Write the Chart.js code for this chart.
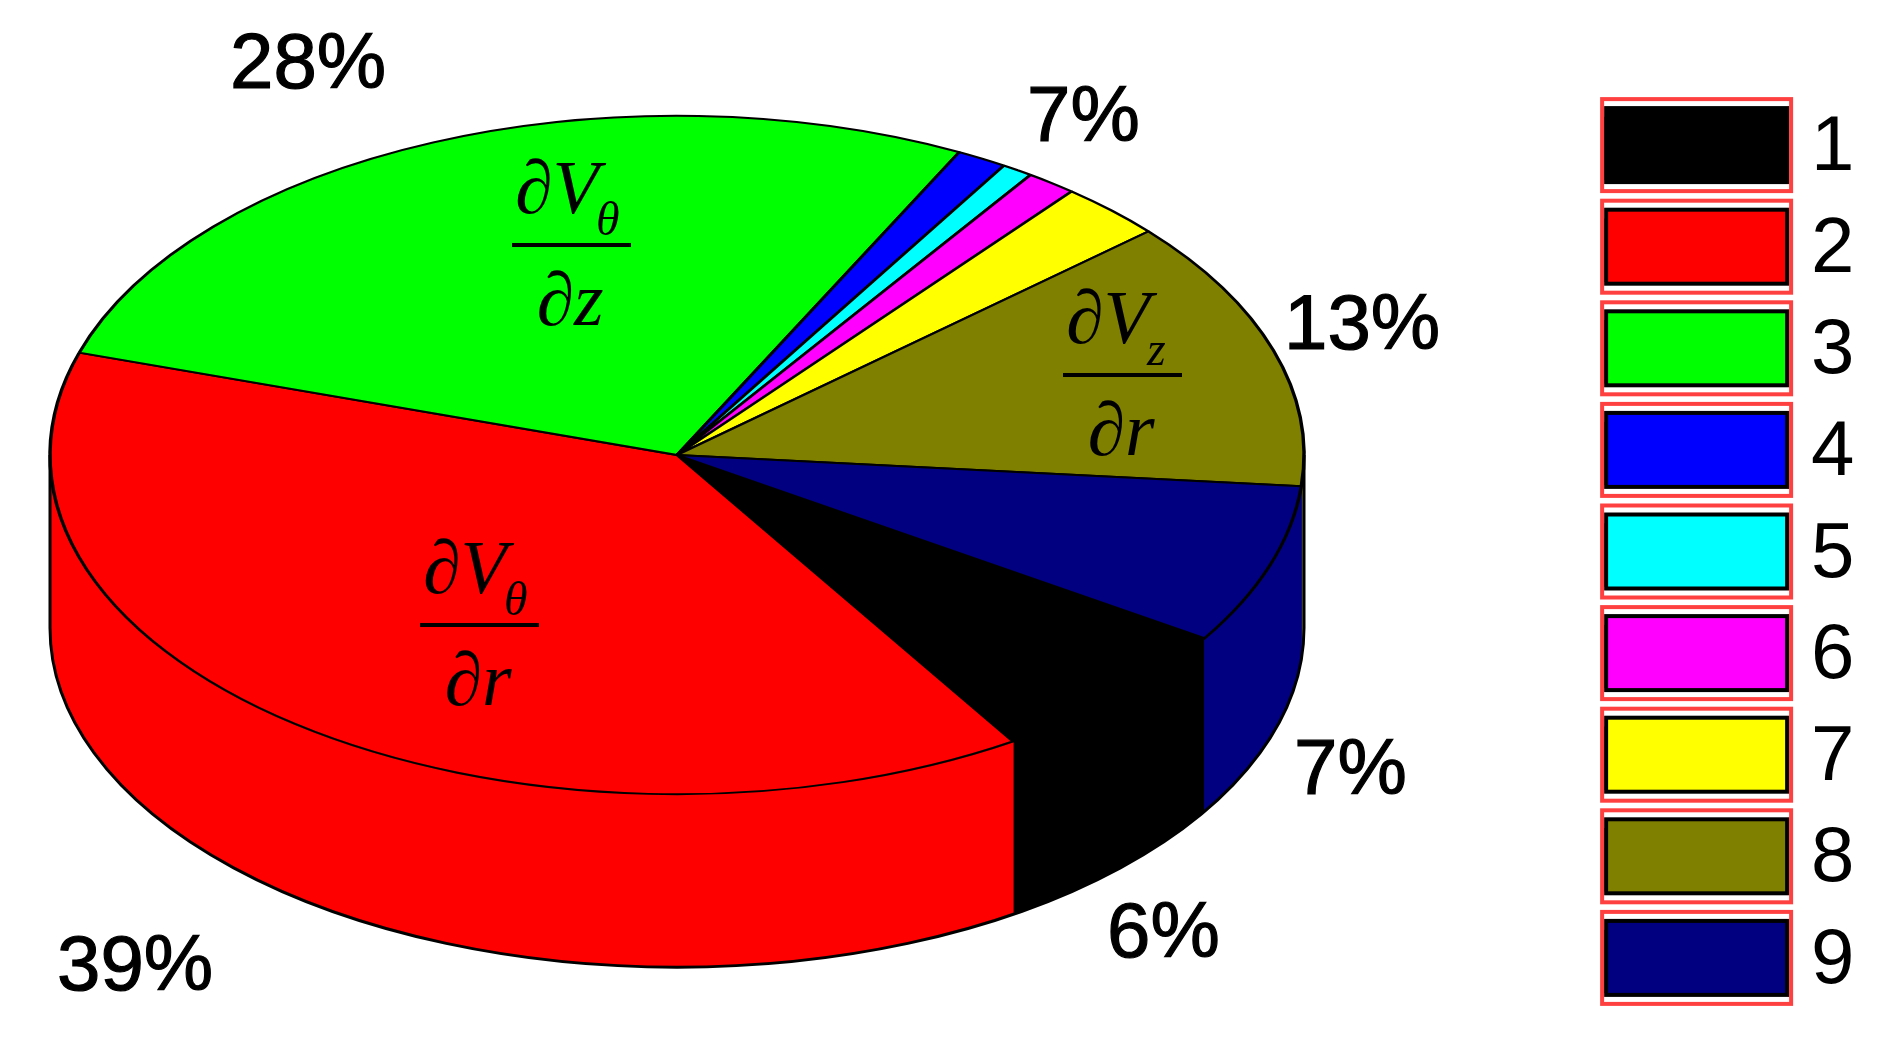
<!DOCTYPE html>
<html>
<head>
<meta charset="utf-8">
<style>html,body{margin:0;padding:0;background:#fff}canvas{display:block}</style>
<script src="https://cdn.jsdelivr.net/npm/chart.js@4"></script>
</head>
<body>
<canvas id="c" width="1888" height="1048"></canvas>
<script>
const categories = ['1','2','3','4','5','6','7','8','9'];
const shares = [6.9, 38.8, 27.5, 1.3, 0.8, 1.3, 2.7, 12.9, 7.6];
const colors = ['#000000','#ff0000','#00ff00','#0000ff','#00ffff','#ff00ff','#ffff00','#808000','#000080'];
const percentLabels = ['28%','7%','13%','7%','6%','39%'];

const view = {cx:677, cy:455, rx:627, squash:0.541, depth:173};
const percentAt = [[230,88],[1027,141],[1284,349],[1294,794],[1107,957],[57,990]];
const fractions = [
  {num:'∂V', sub:'θ', den:'∂z', x:512, y:245},
  {num:'∂V', sub:'θ', den:'∂r', x:420, y:625},
  {num:'∂V', sub:'z', den:'∂r', x:1063, y:375}
];

const pie3d = {
  id:'pie3d',
  beforeDatasetsDraw(chart){
    const ctx = chart.ctx, arcs = chart.getDatasetMeta(0).data;
    const ry = view.rx*view.squash, d = view.depth;
    arcs.forEach((arc,i)=>{
      const p = arc.getProps(['startAngle','endAngle']);
      for(let k=-1;k<=1;k++){
        const s = Math.max(p.startAngle+2*Math.PI*k,0), e = Math.min(p.endAngle+2*Math.PI*k,Math.PI);
        if(e<=s) continue;
        ctx.beginPath();
        ctx.ellipse(view.cx,view.cy,view.rx,ry,0,s,e);
        ctx.ellipse(view.cx,view.cy+d,view.rx,ry,0,e,s,true);
        ctx.closePath();
        ctx.fillStyle = colors[i];
        ctx.strokeStyle = colors[i];
        ctx.lineWidth = 1;
        ctx.fill(); ctx.stroke();
      }
    });
    ctx.beginPath();
    ctx.moveTo(view.cx+view.rx,view.cy);
    ctx.lineTo(view.cx+view.rx,view.cy+d);
    ctx.ellipse(view.cx,view.cy+d,view.rx,ry,0,0,Math.PI);
    ctx.lineTo(view.cx-view.rx,view.cy);
    ctx.strokeStyle='#000'; ctx.lineWidth=3; ctx.stroke();
    const a = arcs[0];
    ctx.save();
    ctx.translate(view.cx,view.cy);
    ctx.scale(1,view.squash);
    ctx.translate(-a.x,-a.y);
  },
  afterDatasetsDraw(chart){ chart.ctx.restore(); },
  afterDraw(chart){
    const ctx = chart.ctx;
    chart.legend.legendHitBoxes.forEach((b,i)=>{
      const mid = b.top+b.height/2-3.5, w=181, h=74;
      ctx.fillStyle=colors[i]; ctx.strokeStyle='#000'; ctx.lineWidth=4;
      ctx.fillRect(b.left,mid-h/2,w,h); ctx.strokeRect(b.left,mid-h/2,w,h);
      ctx.strokeStyle='rgba(255,30,30,0.85)'; ctx.lineWidth=4;
      ctx.strokeRect(b.left-4,mid-46,189,92);
    });
    ctx.fillStyle='#000'; ctx.strokeStyle='#000'; ctx.textAlign='left'; ctx.textBaseline='alphabetic';
    ctx.font='78px "Liberation Sans"'; ctx.lineWidth=1.2;
    percentLabels.forEach((t,i)=>{
      ctx.fillText(t,percentAt[i][0],percentAt[i][1]);
      ctx.strokeText(t,percentAt[i][0],percentAt[i][1]);
    });
    fractions.forEach(f=>{
      ctx.font='italic 76px "Liberation Serif"';
      ctx.fillText(f.num,f.x+3,f.y-32);
      ctx.font='italic 48px "Liberation Serif"';
      ctx.fillText(f.sub,f.x+84,f.y-10);
      ctx.font='italic 76px "Liberation Serif"';
      ctx.textAlign='center';
      ctx.fillText(f.den,f.x+58,f.y+80);
      ctx.textAlign='left';
      ctx.fillRect(f.x,f.y-2,119,4);
    });
  }
};

new Chart(document.getElementById('c'),{
  type:'pie',
  data:{labels:categories,datasets:[{
    data:shares, backgroundColor:colors, borderColor:'#000', borderWidth:3.5, clip:false
  }]},
  options:{
    responsive:false, animation:false, events:[],
    rotation:122.7, radius:view.rx,
    layout:{padding:{top:62,right:23.5}},
    plugins:{
      tooltip:{enabled:false},
      legend:{position:'right',labels:{
        boxWidth:166, boxHeight:60, padding:23.6, color:'#000',
        font:{family:'"Liberation Sans"',size:78,lineHeight:1}
      }}
    }
  },
  plugins:[pie3d]
});
</script>
</body>
</html>
